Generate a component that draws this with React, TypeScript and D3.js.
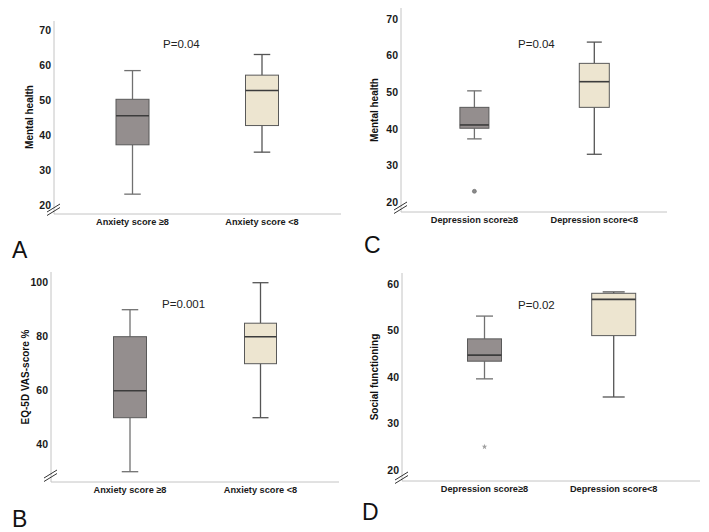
import React from "react";
import * as d3 from "d3";

// ---- Data ----
const catsAnxiety = ["Anxiety score ≥8", "Anxiety score <8"];
const catsDepression = ["Depression score≥8", "Depression score<8"];

// [min, q1, median, q3, max]
const statsA = [
  [23.1, 37.2, 45.5, 50.2, 58.4],
  [35.1, 42.7, 52.7, 57.1, 63.0],
];
const statsB = [
  [30, 50, 60, 80, 90],
  [50, 70, 80, 85, 100],
];
const statsC = [
  [37.3, 40.2, 41.1, 45.9, 50.4],
  [33.1, 45.9, 52.9, 57.9, 63.7],
];
const statsD = [
  [39.6, 43.4, 44.7, 48.2, 53.1],
  [35.7, 48.9, 56.7, 58.0, 58.3],
];
const outliersC = [{ group: 0, value: 23.0, shape: "circle" }];
const outliersD = [{ group: 0, value: 25.0, shape: "star" }];

const ticksA = [20, 30, 40, 50, 60, 70];
const ticksB = [40, 60, 80, 100];
const ticksC = [20, 30, 40, 50, 60, 70];
const ticksD = [20, 30, 40, 50, 60];

const pA = "P=0.04";
const pB = "P=0.001";
const pC = "P=0.04";
const pD = "P=0.02";

const titleA = "Mental health";
const titleB = "EQ-5D VAS-score %";
const titleC = "Mental health";
const titleD = "Social functioning";

// ---- Layout ----
const FONT = "'Liberation Sans', Arial, sans-serif";
const FILLS = ["#948e8e", "#ede5d0"];
const WHISK = ["#707070", "#555555"];
const STROKE = "#595959";

type Layout = {
  axisX: number; axisTop: number; baseY: number; xEnd: number;
  dom: [number, number]; rng: [number, number];
  centers: number[]; widths: number[];
  pX: number; pY: number; titleX: number; titleY: number;
  letter: string; letterX: number; letterY: number; breakY: number;
};

const panels: { layout: Layout; stats: number[][]; cats: string[]; ticks: number[]; p: string; title: string; outliers: any[] }[] = [
  {
    layout: { axisX: 54, axisTop: 21, baseY: 214, xEnd: 341, dom: [20, 70], rng: [205, 30], centers: [132.5, 262], widths: [33, 33], pX: 163, pY: 48, titleX: 29, titleY: 117, letter: "A", letterX: 12, letterY: 258, breakY: 208 },
    stats: statsA, cats: catsAnxiety, ticks: ticksA, p: pA, title: titleA, outliers: [],
  },
  {
    layout: { axisX: 401, axisTop: 8, baseY: 212, xEnd: 667, dom: [20, 70], rng: [202.3, 19], centers: [474.4, 594.3], widths: [29, 30], pX: 518, pY: 48, titleX: 374, titleY: 110, letter: "C", letterX: 364, letterY: 253, breakY: 206 },
    stats: statsC, cats: catsDepression, ticks: ticksC, p: pC, title: titleC, outliers: outliersC,
  },
  {
    layout: { axisX: 51, axisTop: 272, baseY: 482, xEnd: 339, dom: [40, 100], rng: [444.7, 282.7], centers: [130, 260.5], widths: [33, 32], pX: 162, pY: 308, titleX: 25, titleY: 377, letter: "B", letterX: 12, letterY: 527, breakY: 474 },
    stats: statsB, cats: catsAnxiety, ticks: ticksB, p: pB, title: titleB, outliers: [],
  },
  {
    layout: { axisX: 402, axisTop: 273, baseY: 481, xEnd: 700, dom: [20, 60], rng: [470, 284], centers: [484.5, 613.7], widths: [34, 44], pX: 518, pY: 309, titleX: 374, titleY: 377, letter: "D", letterX: 362, letterY: 520, breakY: 476 },
    stats: statsD, cats: catsDepression, ticks: ticksD, p: pD, title: titleD, outliers: outliersD,
  },
];

function Panel({ layout: L, stats, cats, ticks, p, title, outliers }: any) {
  const y = d3.scaleLinear().domain(L.dom).range(L.rng);
  const star = d3.symbol().type(d3.symbolStar).size(10)();
  return (
    <g>
      {/* axes */}
      <line x1={L.axisX} x2={L.axisX} y1={L.axisTop} y2={L.baseY} stroke="#c4c4c4" strokeWidth={1} />
      <line x1={L.axisX} x2={L.xEnd} y1={L.baseY} y2={L.baseY} stroke="#c4c4c4" strokeWidth={1} />
      {/* break marks */}
      {[0, 3.5].map((o, i) => (
        <line key={i} x1={L.axisX - 7} y1={L.breakY + 4 + o} x2={L.axisX + 6} y2={L.breakY - 4 + o} stroke="#333" strokeWidth={1} />
      ))}
      {ticks.map((t: number) => (
        <text key={t} x={L.axisX - 3} y={y(t)} dy="0.35em" textAnchor="end" fontFamily={FONT} fontWeight="bold" fontSize={10.5} fill="#1a1a1a">{t}</text>
      ))}
      <text transform={`translate(${L.titleX},${L.titleY}) rotate(-90)`} textAnchor="middle" dy="0.35em" fontFamily={FONT} fontWeight="bold" fontSize={10} fill="#111">{title}</text>
      {cats.map((c: string, i: number) => (
        <text key={c} x={L.centers[i]} y={L.baseY + 11} textAnchor="middle" fontFamily={FONT} fontWeight="bold" fontSize={9.2} fill="#1a1a1a">{c}</text>
      ))}
      {stats.map((s: number[], i: number) => {
        const cx = L.centers[i];
        const w = L.widths[i];
        const cap = w / 2;
        return (
          <g key={i}>
            <line x1={cx} x2={cx} y1={y(s[4])} y2={y(s[3])} stroke={WHISK[i]} strokeWidth={1.3} />
            <line x1={cx} x2={cx} y1={y(s[1])} y2={y(s[0])} stroke={WHISK[i]} strokeWidth={1.3} />
            <line x1={cx - cap / 2} x2={cx + cap / 2} y1={y(s[4])} y2={y(s[4])} stroke={WHISK[i]} strokeWidth={1.3} />
            <line x1={cx - cap / 2} x2={cx + cap / 2} y1={y(s[0])} y2={y(s[0])} stroke={WHISK[i]} strokeWidth={1.3} />
            <rect x={cx - w / 2} y={y(s[3])} width={w} height={y(s[1]) - y(s[3])} fill={FILLS[i]} stroke={STROKE} strokeWidth={1} />
            <line x1={cx - w / 2} x2={cx + w / 2} y1={y(s[2])} y2={y(s[2])} stroke="#3c3c3c" strokeWidth={1.6} />
          </g>
        );
      })}
      {outliers.map((o: any, i: number) =>
        o.shape === "circle" ? (
          <circle key={i} cx={L.centers[o.group]} cy={y(o.value)} r={2} fill="#8a8a8a" stroke="#666" strokeWidth={0.6} />
        ) : (
          <path key={i} d={star as string} transform={`translate(${L.centers[o.group]},${y(o.value)})`} fill="#a0a0a0" />
        )
      )}
      <text x={L.pX} y={L.pY} fontFamily={FONT} fontSize={11.5} fill="#222">{p}</text>
      <text x={L.letterX} y={L.letterY} fontFamily={FONT} fontSize={23} fill="#111">{L.letter}</text>
    </g>
  );
}

export default function App() {
  return (
    <svg width={709} height={532} style={{ position: "absolute", left: 0, top: 0, background: "#fff" }}>
      <rect width={709} height={532} fill="#fff" />
      {panels.map((pn, i) => (
        <Panel key={i} {...pn} />
      ))}
    </svg>
  );
}
